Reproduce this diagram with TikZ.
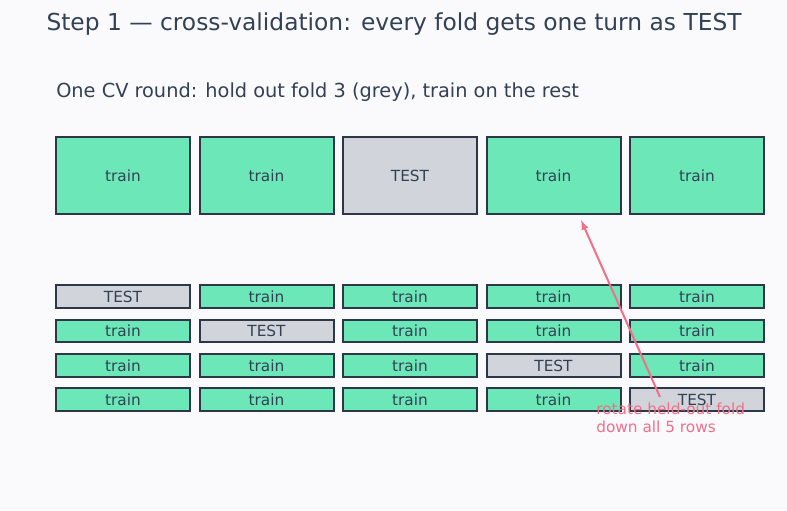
\documentclass[tikz,border=0pt]{standalone}
\usepackage{fontspec}
\setmainfont{DejaVu Sans}
\usepackage{xcolor}
\usetikzlibrary{arrows,positioning,calc}

\definecolor{bgpage}{HTML}{FAFAFD}
\definecolor{inkdark}{HTML}{334155}
\definecolor{edgedark}{HTML}{2D3748}
\definecolor{trainfill}{HTML}{6CE8B8}
\definecolor{testfill}{HTML}{D1D5DB}
\definecolor{rotpink}{HTML}{F07088}

\tikzset{
    fold/.style={draw=edgedark, line width=1.5pt, minimum width=100.5pt, inner sep=0pt, text=inkdark, font=\fontsize{11.5}{13}\selectfont},
    bigfold/.style={fold, minimum height=57.75pt},
    smallfold/.style={fold, minimum height=17pt},
    trainbox/.style={fill=trainfill},
    testbox/.style={fill=testfill}
}

\begin{document}
\begin{tikzpicture}[x=0.75pt, y=-0.75pt]
        % page and margins, in pixels of the 787x510 reference
        \fill[bgpage] (0,0) rectangle (787,510);
        \useasboundingbox (0,0) rectangle (787,510);

        \node[text=inkdark, font=\fontsize{17.5}{20}\selectfont] (title) at (394,24) {Step 1 — cross-validation: every fold gets one turn as TEST};
        \node[text=inkdark, font=\fontsize{14.5}{17}\selectfont, anchor=west, inner sep=0pt] (subtitle) at (56,92) {One CV round: hold out fold 3 (grey), train on the rest};

        % the single round shown large
        \foreach \k in {1,...,5}{
            \ifnum\k=3
                \node[bigfold, testbox] (fold-\k) at ({123+143.5*(\k-1)},175.5) {TEST};
            \else
                \node[bigfold, trainbox] (fold-\k) at ({123+143.5*(\k-1)},175.5) {train};
            \fi
        }

        % the four rows below: row r holds out fold \t
        \foreach \r/\t/\y in {1/1/296.5, 2/2/331, 3/4/365.5, 4/5/399.5}{
            \foreach \k in {1,...,5}{
                \ifnum\k=\t
                    \node[smallfold, testbox] (r\r-c\k) at ({123+143.5*(\k-1)},\y) {TEST};
                \else
                    \node[smallfold, trainbox] (r\r-c\k) at ({123+143.5*(\k-1)},\y) {train};
                \fi
            }
        }

        \node[text=rotpink, font=\fontsize{11.5}{13}\selectfont, align=left, anchor=north west, inner sep=0pt] (rotlabel) at (596,403) {rotate held-out fold\\down all 5 rows};

        \coordinate (rot-start) at (660,397);
        \coordinate (rot-end) at ($(fold-4.south)+(27.5,5)$);
        \draw[rotpink, line width=1.5pt, -latex] (rot-start) -- (rot-end); % arrow up to the held-out fold
    \end{tikzpicture}
\end{document}
